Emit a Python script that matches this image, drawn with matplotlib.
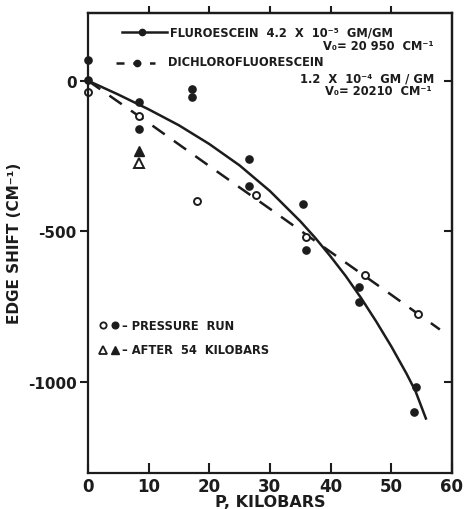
import matplotlib
matplotlib.use("Agg")
import matplotlib.pyplot as plt

# DATA
# fitted curves, as drawn
fluor_curve_p = [0, 5, 10, 15, 20, 25, 30, 35, 37.5, 40, 42.5, 45, 47.5, 50, 52.5, 54, 55.7]
fluor_curve_shift = [0, -46, -95, -148, -210, -281, -366, -466, -522, -583, -648,
                     -720, -798, -881, -971, -1030, -1120]
dichloro_curve_p = [0, 10, 20, 30, 40, 50, 58]
dichloro_curve_shift = [0, -140, -283, -425, -568, -710, -825]

# pressure run points
filled_p = [0, 0, 8.4, 8.4, 17.1, 17.1, 26.6, 26.6, 35.5, 36, 44.7, 44.6, 54, 53.8]
filled_shift = [67, 3, -70, -160, -27, -53, -260, -349, -410, -563, -683, -733, -1017, -1100]
open_p = [0, 8.4, 18, 27.7, 36, 45.7, 54.4]
open_shift = [-37, -117, -400, -380, -517, -643, -773]

# after 54 kilobars
tri_filled_p = [8.5]
tri_filled_shift = [-233]
tri_open_p = [8.5]
tri_open_shift = [-272]

x_ticks = [0, 10, 20, 30, 40, 50, 60]
y_ticks = [0, -500, -1000]

INK = "#1c1c1c"
plt.rcParams["font.family"] = ["DejaVu Sans"]
plt.rcParams["font.weight"] = "bold"
plt.rcParams["axes.labelweight"] = "bold"

fig = plt.figure(figsize=(4.65, 5.1), dpi=100)
ax = fig.add_axes([0.189, 0.071, 0.783, 0.902])

ax.plot(fluor_curve_p, fluor_curve_shift, color=INK, lw=1.8, solid_joinstyle="round")
ax.plot(dichloro_curve_p, dichloro_curve_shift, color=INK, lw=1.8,
        dashes=(6, 4.5))

ax.plot(filled_p, filled_shift, "o", color=INK, ms=5.2, clip_on=False)
ax.plot(open_p, open_shift, "o", mfc="white", mec=INK, mew=1.4, ms=5, clip_on=False)
ax.plot(tri_open_p, tri_open_shift, "^", mfc="white", mec=INK, mew=1.4, ms=6.5)
ax.plot(tri_filled_p, tri_filled_shift, "^", color=INK, ms=6.5)

ax.set_xlim(0, 60)
ax.set_ylim(-1300, 225)

for s in ax.spines.values():
    s.set_linewidth(1.6)
    s.set_color(INK)

ax.set_xticks(x_ticks)
ax.set_yticks(y_ticks)
ax.set_yticklabels(["0", "-500", "-1000"])
ax.tick_params(axis="x", direction="in", length=7, width=1.5, color=INK,
               labelsize=12, pad=3, labelcolor=INK)
ax.tick_params(axis="y", direction="out", length=6, width=1.5, color=INK,
               labelsize=11, pad=2, labelcolor=INK)

top = ax.secondary_xaxis("top")
top.set_xticks(x_ticks[1:-1])
top.tick_params(direction="out", length=5, width=1.5, color=INK, labeltop=False)
top.spines["top"].set_linewidth(1.6)
right = ax.secondary_yaxis("right")
right.set_yticks(y_ticks)
right.tick_params(direction="in", length=6, width=1.5, color=INK, labelright=False)
right.spines["right"].set_linewidth(1.6)

ax.set_xlabel("P, KILOBARS", fontsize=11.5, color=INK, labelpad=-1)
ax.set_ylabel("EDGE SHIFT (CM\u207b\u00b9)", fontsize=11, color=INK, labelpad=4)

# legend (upper right), drawn by hand like the original lettering
tr = ax.transAxes
fs = 8.3
ax.plot([0.095, 0.217], [0.959, 0.959], transform=tr, color=INK, lw=1.8)
ax.plot([0.150], [0.959], "o", transform=tr, color=INK, ms=4.5)
ax.text(0.225, 0.959, "FLUROESCEIN  4.2  X  10\u207b\u2075  GM/GM", transform=tr,
        fontsize=fs, va="center", ha="left", color=INK)
ax.text(0.95, 0.928, "V\u2080= 20 950  CM\u207b\u00b9", transform=tr,
        fontsize=fs, va="center", ha="right", color=INK)
ax.plot([0.078, 0.185], [0.891, 0.891], transform=tr, color=INK, lw=1.8,
        dashes=(3.2, 3.5))
ax.plot([0.135], [0.891], "o", transform=tr, color=INK, ms=4.5)
ax.text(0.22, 0.893, "DICHLOROFLUORESCEIN", transform=tr,
        fontsize=fs, va="center", ha="left", color=INK)
ax.text(0.95, 0.858, "1.2  X  10\u207b\u2074  GM / GM", transform=tr,
        fontsize=fs, va="center", ha="right", color=INK)
ax.text(0.945, 0.830, "V\u2080= 20210  CM\u207b\u00b9", transform=tr,
        fontsize=fs, va="center", ha="right", color=INK)

# symbol key (lower left)
ax.plot([0.042], [0.321], "o", transform=tr, mfc="white", mec=INK, mew=1.3, ms=4.5)
ax.plot([0.075], [0.321], "o", transform=tr, color=INK, ms=4.8)
ax.text(0.095, 0.321, "\u2013 PRESSURE  RUN", transform=tr,
        fontsize=fs, va="center", ha="left", color=INK)
ax.plot([0.042], [0.267], "^", transform=tr, mfc="white", mec=INK, mew=1.3, ms=5.5)
ax.plot([0.075], [0.267], "^", transform=tr, color=INK, ms=5.5)
ax.text(0.095, 0.267, "\u2013 AFTER  54  KILOBARS", transform=tr,
        fontsize=fs, va="center", ha="left", color=INK)

fig.savefig("out.png", dpi=100)
